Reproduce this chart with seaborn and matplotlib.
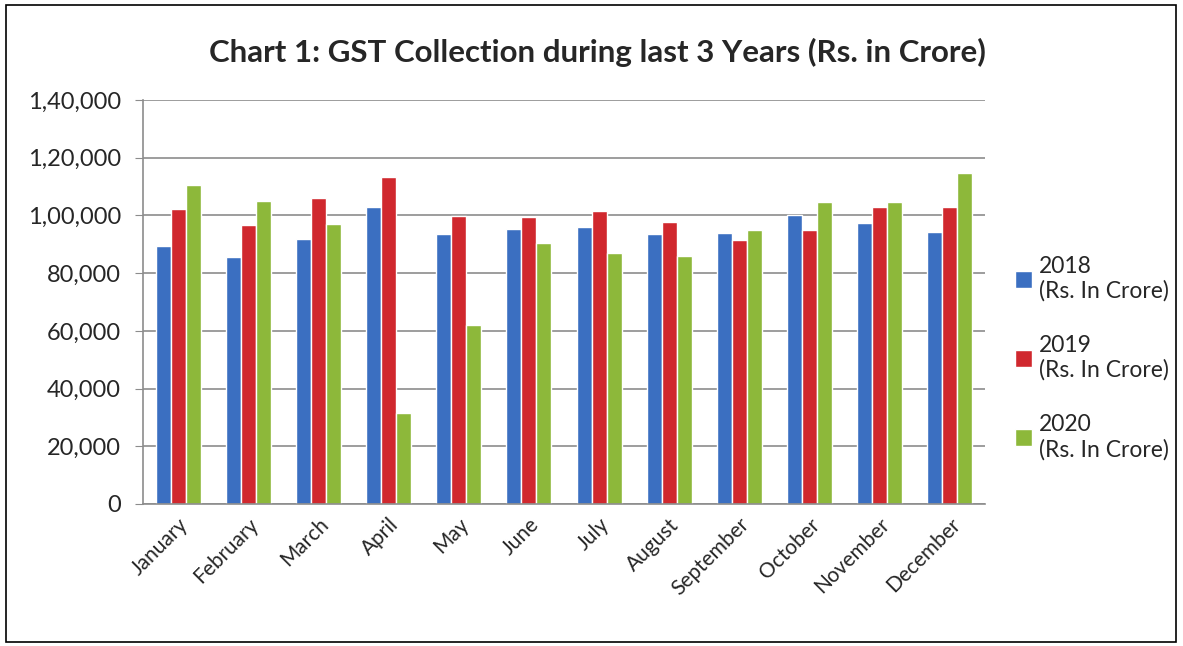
import pandas as pd
import matplotlib.pyplot as plt
import matplotlib.ticker as mticker
from matplotlib.patches import Rectangle, Patch
import seaborn as sns

months = ["January", "February", "March", "April", "May", "June", "July",
          "August", "September", "October", "November", "December"]
series = ["2018\n(Rs. In Crore)", "2019\n(Rs. In Crore)", "2020\n(Rs. In Crore)"]
gst_2018 = [89400, 85600, 91800, 102900, 93600, 95300, 96000, 93600, 93900, 100300, 97400, 94200]
gst_2019 = [102200, 96600, 106100, 113400, 99700, 99400, 101500, 97700, 91500, 94900, 102800, 102800]
gst_2020 = [110500, 104900, 97100, 31500, 62000, 90500, 86900, 85900, 95000, 104700, 104700, 114600]
colors = ["#3B6FC1", "#D0282E", "#8DB83A"]

df = pd.DataFrame({
    "month": months * 3,
    "series": [series[0]] * 12 + [series[1]] * 12 + [series[2]] * 12,
    "value": gst_2018 + gst_2019 + gst_2020,
})

sns.set_style("white")
plt.rcParams["font.family"] = ["Lato", "DejaVu Sans"]

fig = plt.figure(figsize=(11.83, 6.46), dpi=100)
ax = fig.add_axes([143 / 1183, 1 - 504 / 646, (985 - 143) / 1183, (504 - 100) / 646])

sns.barplot(data=df, x="month", y="value", hue="series", palette=colors,
            width=0.64, ax=ax, saturation=1, legend=False)

ax.set_ylim(0, 140000)
ax.set_xlim(-0.5, 11.5)
ax.yaxis.set_major_locator(mticker.MultipleLocator(20000))


def indian_fmt(v, pos):
    v = int(round(v))
    s = str(v)
    if len(s) <= 3:
        return s
    last3 = s[-3:]
    rest = s[:-3]
    parts = []
    while len(rest) > 2:
        parts.insert(0, rest[-2:])
        rest = rest[:-2]
    if rest:
        parts.insert(0, rest)
    return ",".join(parts) + "," + last3


ax.yaxis.set_major_formatter(mticker.FuncFormatter(indian_fmt))
ax.grid(axis="y", color="#8c8c8c", linewidth=1.2)
ax.set_axisbelow(True)
for side in ["top", "right"]:
    ax.spines[side].set_visible(False)
for side in ["left", "bottom"]:
    ax.spines[side].set_color("#8c8c8c")
    ax.spines[side].set_linewidth(1.2)
ax.tick_params(axis="y", left=True, length=6, color="#8c8c8c", labelsize=17, pad=10)
ax.tick_params(axis="x", bottom=False, labelsize=15, pad=4)
plt.setp(ax.get_xticklabels(), rotation=45, ha="right", rotation_mode="anchor")
ax.set_xlabel("")
ax.set_ylabel("")

fig.suptitle("Chart 1: GST Collection during last 3 Years (Rs. in Crore)",
             x=0.5 + 6 / 1183, y=1 - 52 / 646, va="center", fontsize=22.5, fontweight="bold")

handles = [Patch(facecolor=c, label=s) for c, s in zip(colors, series)]
fig.legend(handles=handles, loc="center left", bbox_to_anchor=(994 / 1183, 1 - 358 / 646),
           frameon=False, fontsize=16.5, handlelength=0.75, handleheight=0.75,
           handletextpad=0.3, labelspacing=1.45)

fig.patches.append(Rectangle((6 / 1183, 4 / 646), 1170 / 1183, 637 / 646,
                             transform=fig.transFigure, fill=False,
                             edgecolor="black", linewidth=1.2))

fig.savefig("out.png", dpi=100)
